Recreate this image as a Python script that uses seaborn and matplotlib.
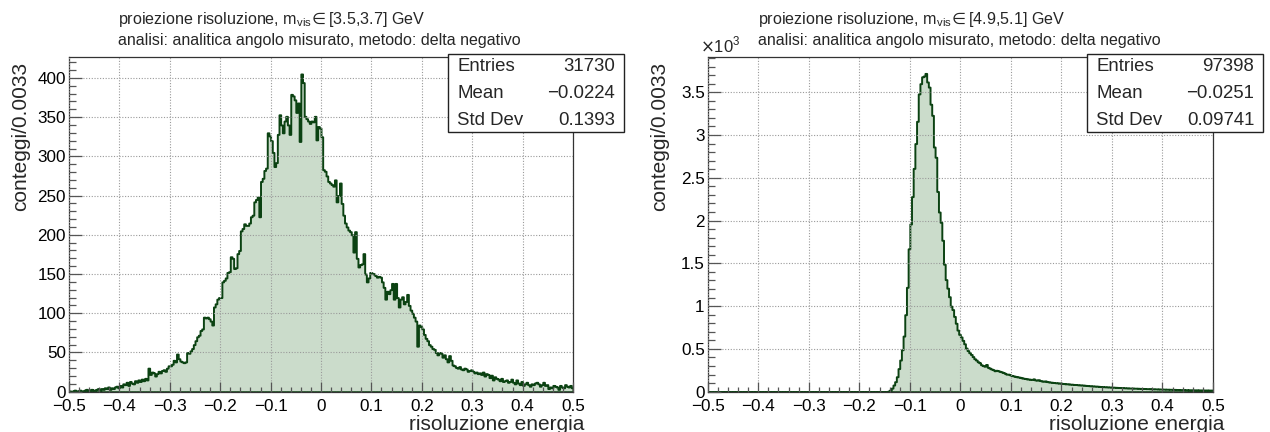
import numpy as np
import pandas as pd
import matplotlib
matplotlib.use("Agg")
import matplotlib.pyplot as plt
from matplotlib.patches import Rectangle
from matplotlib.ticker import MultipleLocator, FuncFormatter
import seaborn as sns

# ---------------------------------------------------------------- data
x_lo, x_hi, n_bins = -0.5, 0.5, 300

# m_vis in [3.5, 3.7] GeV : counts per bin (bin width 1/300)
counts_a = [
    1, 0, 1, 2, 1, 1, 2, 1, 1, 2, 3, 1, 2, 3, 2,
    2, 3, 4, 2, 4, 3, 5, 4, 6, 3, 5, 4, 6, 7, 5,
    8, 6, 10, 9, 12, 8, 13, 11, 10, 14, 12, 15, 13, 16, 14,
    17, 15, 30, 22, 25, 24, 20, 23, 26, 24, 27, 28, 26, 30, 33,
    33, 35, 40, 38, 48, 42, 39, 38, 37, 38, 50, 49, 52, 55, 60,
    65, 70, 72, 78, 80, 95, 94, 95, 93, 90, 85, 108, 112, 118, 120,
    120, 140, 142, 145, 152, 153, 172, 170, 157, 158, 176, 180, 205, 208, 214,
    212, 212, 215, 223, 225, 242, 245, 248, 223, 268, 272, 282, 285, 330, 326,
    320, 305, 287, 292, 328, 353, 340, 330, 345, 351, 340, 328, 379, 377, 372,
    356, 368, 319, 405, 394, 351, 348, 345, 342, 345, 344, 351, 321, 338, 336,
    325, 283, 281, 275, 268, 266, 264, 262, 270, 242, 250, 266, 240, 225, 215,
    210, 206, 204, 200, 178, 204, 170, 159, 162, 163, 176, 150, 140, 145, 152,
    151, 150, 148, 146, 147, 146, 140, 133, 118, 128, 125, 130, 138, 118, 138,
    120, 108, 118, 121, 112, 115, 124, 110, 104, 100, 95, 90, 58, 85, 83,
    80, 73, 68, 65, 60, 58, 55, 54, 50, 47, 50, 49, 44, 47, 42,
    38, 46, 40, 34, 33, 31, 30, 32, 29, 28, 30, 29, 26, 27, 28,
    26, 24, 25, 23, 24, 22, 25, 20, 23, 22, 18, 21, 15, 19, 17,
    16, 14, 17, 13, 14, 15, 12, 13, 16, 12, 10, 15, 11, 9, 13,
    8, 10, 12, 9, 7, 10, 9, 11, 12, 10, 7, 9, 12, 8, 9,
    4, 6, 5, 8, 7, 6, 3, 8, 6, 5, 9, 7, 6, 8, 5,
]

# m_vis in [4.9, 5.1] GeV : counts per bin (bin width 1/300)
counts_b = [0] * 107 + [
    8, 20, 42, 78, 117, 175, 270, 370, 490, 650,
    900, 1220, 1670, 1960, 2280, 2610, 2900, 3160, 3480, 3600,
    3680, 3690, 3720, 3620, 3560, 3360, 3230, 2860, 2740, 2340,
    2100, 1980, 1770, 1490, 1310, 1210, 1110, 1000, 960, 880,
    800, 720, 670, 640, 600, 560, 510, 480, 455, 435,
    410, 385, 370, 350, 338, 315, 305, 298, 318, 285,
    275, 265, 258, 245, 250, 245, 238, 232, 225, 215,
    205, 205, 198, 190, 185, 180, 175, 172, 168, 162,
    158, 155, 150, 148, 145, 143, 150, 138, 135, 140,
    130, 125, 122, 126, 118, 115, 112, 110, 108, 105,
    104, 100, 102, 97, 95, 92, 93, 90, 88, 87,
    85, 84, 82, 80, 79, 78, 76, 74, 72, 70,
    69, 68, 66, 65, 64, 62, 60, 59, 58, 57,
    56, 55, 54, 53, 52, 51, 50, 49, 48, 47,
    46, 45, 44, 43, 43, 42, 41, 41, 40, 39,
    38, 38, 37, 36, 36, 35, 34, 34, 33, 33,
    32, 31, 31, 30, 30, 29, 29, 28, 28, 27,
    27, 26, 26, 25, 25, 25, 24, 24, 23, 23,
    23, 22, 22, 22, 21, 21, 21, 20, 20, 20,
    19, 19, 19,
]

titles_1 = [
    r"proiezione risoluzione, m$_{\mathregular{vis}}\!\in$[3.5,3.7] GeV",
    r"proiezione risoluzione, m$_{\mathregular{vis}}\!\in$[4.9,5.1] GeV",
]
title_2 = "analisi: analitica angolo misurato, metodo: delta negativo"
x_title = "risoluzione energia"
y_title = "conteggi/0.0033"

stats_labels = ["Entries", "Mean", "Std Dev"]
stats_a = ["31730", "\u22120.0224", "0.1393"]
stats_b = ["97398", "\u22120.0251", "0.09741"]

# ---------------------------------------------------------------- style
sns.set_theme(style="white")
plt.rcParams["font.family"] = ["Liberation Sans", "DejaVu Sans"]
plt.rcParams["mathtext.fontset"] = "dejavusans"

LINE = "#0b4212"
FILL = "#cbdccb"
GRID = "#9a9a9a"

W, H = 1270, 432
fig = plt.figure(figsize=(W / 100, H / 100), dpi=100, facecolor="white")


def fx(px):
    return px / W


def fy(py):
    return 1 - py / H


edges = np.linspace(x_lo, x_hi, n_bins + 1)
centers = 0.5 * (edges[:-1] + edges[1:])

panels = [
    dict(left=69, right=573, counts=counts_a, ymax=426, major=50, minor=10,
         thousands=False, title=titles_1[0], tx=118, stats=stats_a,
         box=(447.7, 624, 54, 131.7), ylab_x=21),
    dict(left=707.7, right=1213, counts=counts_b, ymax=3906, major=500, minor=100,
         thousands=True, title=titles_1[1], tx=758, stats=stats_b,
         box=(1086.7, 1263.3, 54, 131.7), ylab_x=660),
]

top_px, bot_px = 57.5, 391.7


def xfmt(v, _):
    if abs(v) < 1e-9:
        return "0"
    return f"{v:.1f}".replace("-", "\u2212")


for p in panels:
    width_px = p["right"] - p["left"]
    ax = fig.add_axes([fx(p["left"]), fy(bot_px),
                       fx(width_px), (bot_px - top_px) / H])
    ax.set_facecolor("white")

    df = pd.DataFrame({"x": centers, "n": np.asarray(p["counts"], float)})
    sns.histplot(data=df, x="x", weights="n", bins=n_bins,
                 binrange=(x_lo, x_hi), element="step", fill=True,
                 facecolor=FILL, edgecolor=LINE, linewidth=1.4, alpha=1.0,
                 ax=ax, zorder=1)

    ax.set_xlim(x_lo, x_hi)
    ax.set_ylim(0, p["ymax"])

    ax.xaxis.set_major_locator(MultipleLocator(0.1))
    ax.xaxis.set_minor_locator(MultipleLocator(0.02))
    ax.yaxis.set_major_locator(MultipleLocator(p["major"]))
    ax.yaxis.set_minor_locator(MultipleLocator(p["minor"]))
    ax.xaxis.set_major_formatter(FuncFormatter(xfmt))
    if p["thousands"]:
        ax.yaxis.set_major_formatter(FuncFormatter(lambda v, _: f"{v / 1000:g}"))
    else:
        ax.yaxis.set_major_formatter(FuncFormatter(lambda v, _: f"{v:g}"))

    ax.tick_params(axis="both", which="both", direction="in", color="#555555",
                   width=0.9, labelsize=12.3, labelcolor="black",
                   bottom=True, left=True, top=False, right=False)
    ax.tick_params(axis="x", which="major", length=7.2, pad=5.5)
    ax.tick_params(axis="x", which="minor", length=3.6)
    ax.tick_params(axis="y", which="major", length=9.4, pad=2.2)
    ax.tick_params(axis="y", which="minor", length=4.7)

    ax.grid(True, which="major", color=GRID, linestyle=(0, (1, 1.5)),
            linewidth=0.8)
    ax.set_axisbelow(False)
    for s in ax.spines.values():
        s.set_color("#333333")
        s.set_linewidth(0.9)

    ax.set_xlabel(x_title, fontsize=15, loc="right")
    ax.xaxis.label.set_va("top")
    ax.xaxis.set_label_coords((width_px + 11) / width_px,
                              -(415 - bot_px) / (bot_px - top_px))
    ax.set_ylabel(y_title, fontsize=15, loc="top")
    ax.yaxis.label.set_va("center")
    ax.yaxis.set_label_coords((p["ylab_x"] - p["left"]) / width_px,
                              1 - 4.5 / (bot_px - top_px))

    # titles above the frame
    fig.text(fx(p["tx"]), fy(19.5), p["title"], fontsize=11.6, va="center",
             ha="left")
    fig.text(fx(p["tx"]), fy(41), title_2, fontsize=11.5, va="center",
             ha="left")
    if p["thousands"]:
        fig.text(fx(700), fy(45), r"$\times$10$^{\mathregular{3}}$",
                 fontsize=12, va="center", ha="left")

    # statistics box
    bx0, bx1, by0, by1 = p["box"]
    fig.patches.append(Rectangle((fx(bx0), fy(by1)), fx(bx1 - bx0),
                                 (by1 - by0) / H, transform=fig.transFigure,
                                 facecolor="white", edgecolor="#222222",
                                 linewidth=1.0, zorder=5))
    for i, (lab, val) in enumerate(zip(stats_labels, p["stats"])):
        yy = fy(66.7 + 26.7 * i)
        fig.text(fx(bx0 + 9.5), yy, lab, fontsize=13.4, va="center",
                 ha="left", zorder=6)
        fig.text(fx(bx1 - 9), yy, val, fontsize=13.4, va="center",
                 ha="right", zorder=6)

fig.savefig("out.png", dpi=100, facecolor="white")
